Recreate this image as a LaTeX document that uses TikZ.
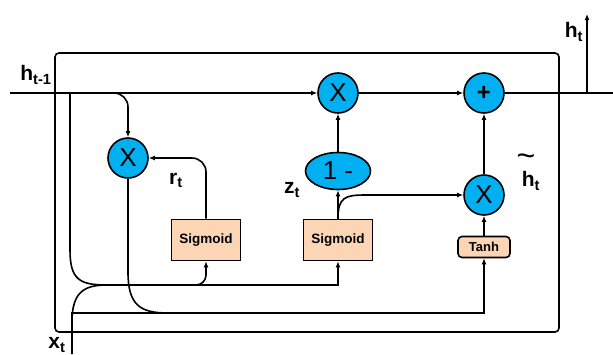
\documentclass[tikz,border=0pt]{standalone}
\usepackage{fontspec}
\setmainfont{Liberation Sans}
\usetikzlibrary{arrows.meta,shapes.geometric}
\definecolor{opblue}{RGB}{0,176,240}
\definecolor{actfill}{RGB}{252,213,180}
\begin{document}
\begin{tikzpicture}[x=1pt,y=-1pt,line width=1.6pt,
  arr/.style={-{Latex[length=6pt,width=5pt]}},
  op/.style={circle,draw,fill=opblue,minimum size=40pt,inner sep=0pt,font=\fontsize{26}{26}\selectfont},
  opell/.style={ellipse,draw,fill=opblue,minimum width=65pt,minimum height=37pt,inner sep=0pt,font=\fontsize{26}{26}\selectfont},
  actbox/.style={rectangle,draw,fill=actfill,minimum width=69pt,minimum height=41pt,inner sep=0pt,font=\fontsize{13.5}{14}\selectfont\bfseries},
  tanhbox/.style={rectangle,rounded corners=4pt,draw,fill=actfill,minimum width=52pt,minimum height=21pt,inner sep=0pt,font=\fontsize{13}{13}\selectfont\bfseries},
  lab/.style={inner sep=0pt,font=\fontsize{21}{22}\selectfont\bfseries},
  tildelab/.style={inner sep=0pt,font=\fontsize{32}{32}\selectfont}]
\useasboundingbox (0,0) rectangle (613,354);
% frame
\draw[rounded corners=4pt] (55,53) rectangle (559,332);
% nodes
\node[op] (m1) at (128,158) {X};
\node[op] (m2) at (338,93) {X};
\node[op,font=\fontsize{24}{24}\selectfont\bfseries] (add) at (484,93) {+};
\node[op] (m3) at (484,195) {X};
\node[opell] (om) at (338,171) {1 -};
\node[actbox] (s1) at (206,240) {Sigmoid};
\node[actbox] (s2) at (338,240) {Sigmoid};
\node[tanhbox] (th) at (484,247) {Tanh};
% coordinates
\coordinate (hin) at (10,93);
\coordinate (hout) at (613,93);
\coordinate (tap) at (587,93);
\coordinate (htop) at (587,14);
\coordinate (rbr) at (105,93);
\coordinate (lv) at (70,93);
\coordinate (join) at (107,285);
\coordinate (xin) at (72,354);
\coordinate (xc) at (72,313);
\coordinate (sbr) at (175,285);
% main line
\draw[arr] (hin) -- (m2);
\draw[arr] (m2) -- (add);
\draw (add) -- (hout);
\draw[arr] (tap) -- (htop);
% reset gate path
\draw[arr,rounded corners=14pt] (rbr) -| (m1.north);
\draw[arr,rounded corners=14pt] (s1.north) |- (m1.east);
% update gate
\draw[arr] (s2) -- (om);
\draw[arr] (om) -- (m2);
\draw[arr] (s2.north) .. controls (338,197) and (345,195) .. (366,195) -- (m3.west);
\draw[arr] (m3) -- (add);
\draw[arr] (th) -- (m3);
% inputs
\draw (lv) -- (70,250) .. controls (70,280) and (80,285) .. (join);
\draw (xin) -- (72,322) .. controls (72,292) and (84,285) .. (join);
\draw[arr] (join) -| (s2.south);
\draw[arr,rounded corners=10pt] (sbr) -| (s1.south);
\draw[arr] (xin) -- (xc) -| (th.south);
\draw (m1.south) -- (128,272) .. controls (128,305) and (140,313) .. (168,313);
% labels
\node[lab] at (36,75) {h\textsubscript{t-1}};
\node[lab] at (574,32) {h\textsubscript{t}};
\node[lab] at (176,180) {r\textsubscript{t}};
\node[lab] at (292,190) {z\textsubscript{t}};
\node[tildelab] at (526,160) {\textasciitilde};
\node[lab] at (531,181) {h\textsubscript{t}};
\node[lab] at (57,345) {x\textsubscript{t}};
\end{tikzpicture}
\end{document}
